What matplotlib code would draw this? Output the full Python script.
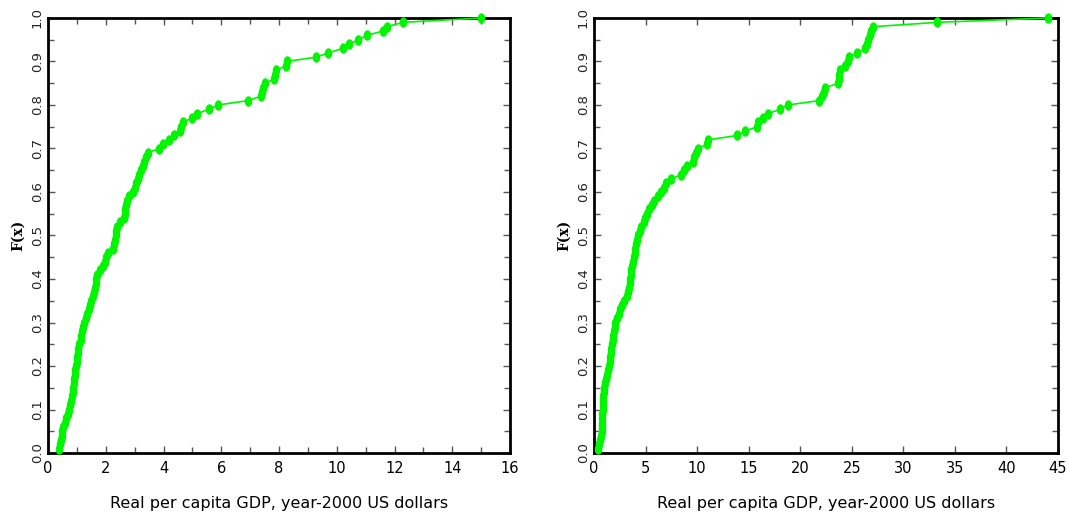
import numpy as np
import matplotlib
matplotlib.use("Agg")
import matplotlib.pyplot as plt
from matplotlib.path import Path
from matplotlib.ticker import MultipleLocator, FormatStrFormatter

# GDP per capita values (thousands of year-2000 US dollars), one per country, sorted
gdp_left = [
    0.37, 0.40, 0.44, 0.47, 0.50, 0.53, 0.58, 0.64, 0.69, 0.72,
    0.76, 0.79, 0.82, 0.85, 0.88, 0.90, 0.91, 0.93, 0.94, 0.97,
    0.99, 1.01, 1.03, 1.05, 1.08, 1.15, 1.16, 1.18, 1.21, 1.25,
    1.30, 1.36, 1.42, 1.46, 1.50, 1.55, 1.59, 1.62, 1.65, 1.67,
    1.70, 1.81, 1.91, 1.96, 2.00, 2.08, 2.24, 2.28, 2.31, 2.34,
    2.37, 2.40, 2.50, 2.64, 2.65, 2.67, 2.69, 2.73, 2.80, 2.96,
    3.02, 3.05, 3.10, 3.16, 3.22, 3.28, 3.33, 3.39, 3.45,
    3.85, 3.98, 4.18, 4.37, 4.58, 4.62, 4.66, 4.99, 5.17, 5.56,
    5.89, 6.91, 7.37, 7.41, 7.45, 7.52, 7.83, 7.87, 7.91, 8.24,
    8.27, 9.28, 9.71, 10.20, 10.43, 10.75, 11.04, 11.59, 11.74, 12.30,
    14.98,
]

gdp_right = [
    0.43, 0.50, 0.59, 0.66, 0.73, 0.76, 0.78, 0.80, 0.81, 0.83,
    0.87, 0.90, 0.92, 0.96, 1.01, 1.08, 1.16, 1.26, 1.35, 1.46,
    1.56, 1.60, 1.65, 1.69, 1.75, 1.82, 1.89, 1.94, 1.99, 2.08,
    2.26, 2.40, 2.55, 2.68, 2.94, 3.22, 3.34, 3.41, 3.48, 3.53,
    3.58, 3.63, 3.70, 3.77, 3.86, 3.94, 4.02, 4.09, 4.17, 4.29,
    4.42, 4.58, 4.82, 4.98, 5.14, 5.38, 5.62, 5.80,
    6.20, 6.50, 6.80, 7.00, 7.50, 8.45, 8.70, 9.00, 9.60, 9.70,
    9.90, 10.05, 11.00, 11.10, 13.90, 14.60, 15.85, 15.95, 16.40, 16.90,
    18.00, 18.80, 21.80, 22.10, 22.30, 22.40, 23.70, 23.75, 23.80, 23.85,
    24.35, 24.62, 24.70, 25.55, 26.30, 26.45, 26.60, 26.75, 26.90, 27.06,
    33.30, 44.00,
]

x_label = "Real per capita GDP, year-2000 US dollars"
y_label = "F(x)"
x_limits = [(0, 16), (0, 45)]
x_major = [2, 5]
x_minor = [1, 5]

fig = plt.figure(figsize=(10.68, 5.23), dpi=100)
ax_left = fig.add_axes([48 / 1068, 70 / 523, 462 / 1068, 435 / 523])
ax_right = fig.add_axes([594 / 1068, 70 / 523, 464 / 1068, 435 / 523])

theta = np.linspace(0, 2 * np.pi, 40)
ell = Path(np.column_stack([0.68 * np.cos(theta), np.sin(theta)]))

green = "#00f500"

for ax, data, xl, xmaj, xmin in zip(
    [ax_left, ax_right], [gdp_left, gdp_right], x_limits, x_major, x_minor
):
    xs = np.sort(np.asarray(data))
    F = np.arange(1, len(xs) + 1) / len(xs)
    ax.plot(xs, F, color=green, lw=1.2, marker=ell, ms=6.5,
            mec=green, mfc=green, clip_on=False, zorder=3)
    ax.set_xlim(*xl)
    ax.set_ylim(0, 1.0)
    ax.xaxis.set_major_locator(MultipleLocator(xmaj))
    if xmin != xmaj:
        ax.xaxis.set_minor_locator(MultipleLocator(xmin))
    ax.yaxis.set_major_locator(MultipleLocator(0.1))
    ax.yaxis.set_minor_locator(MultipleLocator(0.05))
    ax.yaxis.set_major_formatter(FormatStrFormatter("%.1f"))
    ax.tick_params(which="both", direction="in", top=True, right=True,
                   color="#555555", width=1)
    ax.tick_params(which="major", length=5)
    ax.tick_params(which="minor", length=4)
    ax.tick_params(axis="x", labelsize=10.5, pad=6)
    ax.tick_params(axis="y", labelsize=9.5, labelrotation=90, pad=3)
    for lab in ax.get_yticklabels():
        lab.set_verticalalignment("center")
        lab.set_color("#222222")
    for s in ax.spines.values():
        s.set_linewidth(2)
    ax.set_xlabel(x_label, fontsize=11.5, labelpad=14)
    ax.set_ylabel(y_label, fontsize=10, fontweight="bold", family="DejaVu Serif",
                  labelpad=4)

fig.savefig("out.png", dpi=100)
